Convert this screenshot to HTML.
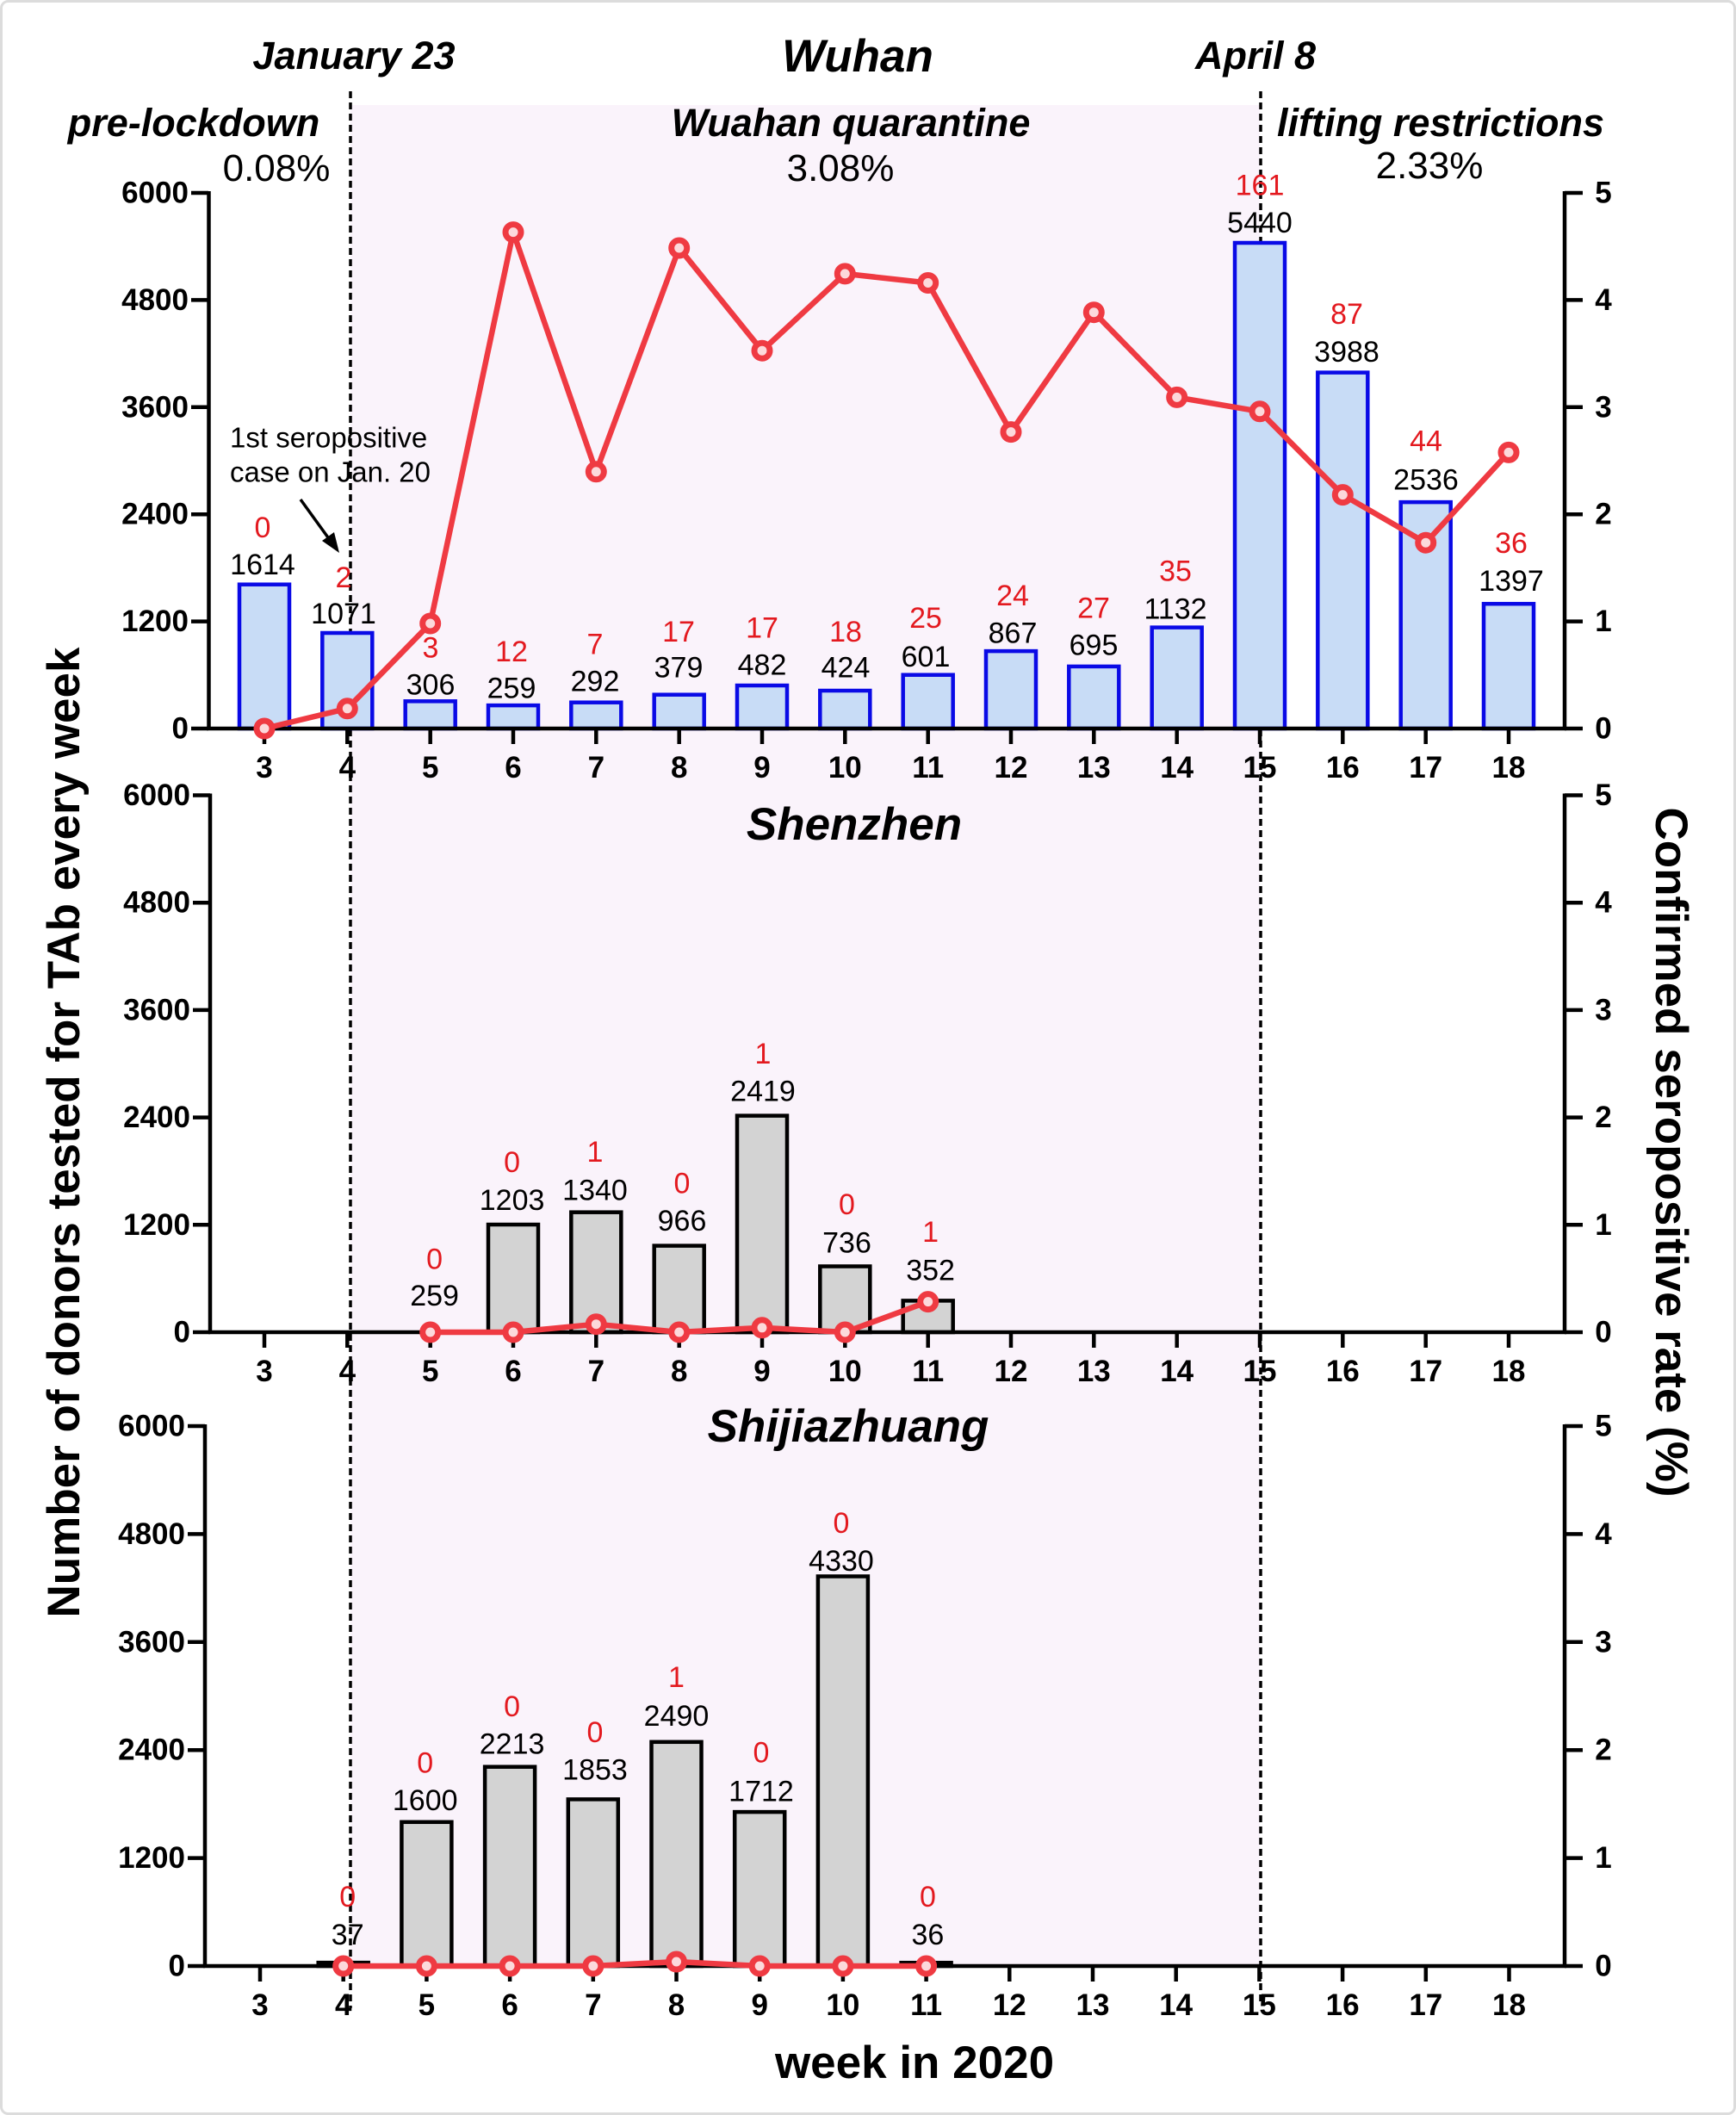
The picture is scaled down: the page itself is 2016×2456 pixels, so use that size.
<!DOCTYPE html>
<html>
<head>
<meta charset="utf-8">
<style>
  html, body { margin:0; padding:0; background:#ffffff; }
  svg { display:block; }
  .tk { font-family:"Liberation Sans", Arial, sans-serif; font-weight:bold; font-size:35px; fill:#000; }
  .num { font-family:"Liberation Sans", Arial, sans-serif; font-size:34px; fill:#000; }
  .red { font-family:"Liberation Sans", Arial, sans-serif; font-size:34px; fill:#e3191f; }
  .ttl { font-family:"Liberation Sans", Arial, sans-serif; font-weight:bold; font-style:italic; font-size:53px; fill:#000; }
  .ph { font-family:"Liberation Sans", Arial, sans-serif; font-weight:bold; font-style:italic; font-size:45px; fill:#000; }
  .pct { font-family:"Liberation Sans", Arial, sans-serif; font-size:44px; fill:#000; }
  .ax { font-family:"Liberation Sans", Arial, sans-serif; font-weight:bold; font-size:53px; fill:#000; }
  .ann { font-family:"Liberation Sans", Arial, sans-serif; font-size:33px; fill:#000; }
</style>
</head>
<body>
<svg width="2016" height="2456" viewBox="0 0 2016 2456" xmlns="http://www.w3.org/2000/svg">
  <rect x="0" y="0" width="2016" height="2456" fill="#ffffff"/>
  <rect x="1.5" y="1.5" width="2013" height="2453" rx="8" fill="none" stroke="#dcdcdc" stroke-width="3"/>

  <!-- shading -->
  <rect x="407" y="122" width="1056" height="2161" fill="#faf3fb"/>

  <!-- dashed lines -->
  <line x1="407" y1="106" x2="407" y2="2332" stroke="#000" stroke-width="3.5" stroke-dasharray="8,5"/>
  <line x1="1464" y1="106" x2="1464" y2="2325" stroke="#000" stroke-width="3.5" stroke-dasharray="8,5"/>

  <!-- Header texts -->
  <text class="ph" x="411" y="80" text-anchor="middle">January 23</text>
  <text class="ttl" x="996" y="83" text-anchor="middle">Wuhan</text>
  <text class="ph" x="1458" y="80" text-anchor="middle">April 8</text>
  <text class="ph" x="225" y="158" text-anchor="middle">pre-lockdown</text>
  <text class="ph" x="988" y="158" text-anchor="middle">Wuahan quarantine</text>
  <text class="ph" x="1673" y="158" text-anchor="middle">lifting restrictions</text>
  <text class="pct" x="321" y="210" text-anchor="middle">0.08%</text>
  <text class="pct" x="976" y="210" text-anchor="middle">3.08%</text>
  <text class="pct" x="1660" y="207" text-anchor="middle">2.33%</text>

  <!-- ============ PANEL 1 (Wuhan) ============ -->
  <g fill="#c8dcf6" stroke="#0a0ae6" stroke-width="4.5">
    <rect x="278" y="678.7" width="58" height="167.3"/>
    <rect x="374.3" y="735" width="58" height="111"/>
    <rect x="470.7" y="814.3" width="58" height="31.7"/>
    <rect x="567" y="819.1" width="58" height="26.9"/>
    <rect x="663.3" y="815.7" width="58" height="30.3"/>
    <rect x="759.7" y="806.7" width="58" height="39.3"/>
    <rect x="856" y="796" width="58" height="50"/>
    <rect x="952.3" y="802" width="58" height="44"/>
    <rect x="1048.7" y="783.7" width="58" height="62.3"/>
    <rect x="1145" y="756.1" width="58" height="89.9"/>
    <rect x="1241.3" y="773.9" width="58" height="72.1"/>
    <rect x="1337.7" y="728.6" width="58" height="117.4"/>
    <rect x="1434" y="282" width="58" height="564"/>
    <rect x="1530.3" y="432.6" width="58" height="413.4"/>
    <rect x="1626.7" y="583.1" width="58" height="262.9"/>
    <rect x="1723" y="701.2" width="58" height="144.8"/>
  </g>
  <!-- axes P1 -->
  <g stroke="#000" stroke-width="4.5" fill="none">
    <line x1="242.5" y1="222" x2="242.5" y2="848"/>
    <line x1="240" y1="846" x2="1819" y2="846"/>
    <line x1="1817" y1="222" x2="1817" y2="848"/>
    <path d="M222 846H242 M222 721.6H242 M222 597.2H242 M222 472.8H242 M222 348.4H242 M222 224H242"/>
    <path d="M1817 846H1838 M1817 721.6H1838 M1817 597.2H1838 M1817 472.8H1838 M1817 348.4H1838 M1817 224H1838"/>
    <path d="M307 846V864 M403.3 846V864 M499.7 846V864 M596 846V864 M692.3 846V864 M788.7 846V864 M885 846V864 M981.3 846V864 M1077.7 846V864 M1174 846V864 M1270.3 846V864 M1366.7 846V864 M1463 846V864 M1559.3 846V864 M1655.7 846V864 M1752 846V864"/>
  </g>
  <g class="tk" text-anchor="end">
    <text class="tk" x="219" y="857.5" text-anchor="end">0</text>
    <text class="tk" x="219" y="733" text-anchor="end">1200</text>
    <text class="tk" x="219" y="608.7" text-anchor="end">2400</text>
    <text class="tk" x="219" y="484.3" text-anchor="end">3600</text>
    <text class="tk" x="219" y="359.9" text-anchor="end">4800</text>
    <text class="tk" x="219" y="235.5" text-anchor="end">6000</text>
  </g>
  <g>
    <text class="tk" x="1862" y="857.5" text-anchor="middle">0</text>
    <text class="tk" x="1862" y="733" text-anchor="middle">1</text>
    <text class="tk" x="1862" y="608.7" text-anchor="middle">2</text>
    <text class="tk" x="1862" y="484.3" text-anchor="middle">3</text>
    <text class="tk" x="1862" y="359.9" text-anchor="middle">4</text>
    <text class="tk" x="1862" y="235.5" text-anchor="middle">5</text>
  </g>
  <g>
    <text class="tk" x="307" y="903" text-anchor="middle">3</text>
    <text class="tk" x="403.3" y="903" text-anchor="middle">4</text>
    <text class="tk" x="499.7" y="903" text-anchor="middle">5</text>
    <text class="tk" x="596" y="903" text-anchor="middle">6</text>
    <text class="tk" x="692.3" y="903" text-anchor="middle">7</text>
    <text class="tk" x="788.7" y="903" text-anchor="middle">8</text>
    <text class="tk" x="885" y="903" text-anchor="middle">9</text>
    <text class="tk" x="981.3" y="903" text-anchor="middle">10</text>
    <text class="tk" x="1077.7" y="903" text-anchor="middle">11</text>
    <text class="tk" x="1174" y="903" text-anchor="middle">12</text>
    <text class="tk" x="1270.3" y="903" text-anchor="middle">13</text>
    <text class="tk" x="1366.7" y="903" text-anchor="middle">14</text>
    <text class="tk" x="1463" y="903" text-anchor="middle">15</text>
    <text class="tk" x="1559.3" y="903" text-anchor="middle">16</text>
    <text class="tk" x="1655.7" y="903" text-anchor="middle">17</text>
    <text class="tk" x="1752" y="903" text-anchor="middle">18</text>
  </g>
  <!-- line P1 -->
  <polyline fill="none" stroke="#ef3a42" stroke-width="6.5" stroke-linejoin="round"
    points="307,846 403.3,822.8 499.7,724 596,269.6 692.3,547.8 788.7,288 885,407.2 981.3,317.9 1077.7,328.5 1174,501.6 1270.3,362.7 1366.7,461.4 1463,477.8 1559.3,574.6 1655.7,630.2 1752,525.4"/>
  <g fill="#fcd9db" stroke="#ef3a42" stroke-width="7">
    <circle cx="307" cy="846" r="9"/>
    <circle cx="403.3" cy="822.8" r="9"/>
    <circle cx="499.7" cy="724" r="9"/>
    <circle cx="596" cy="269.6" r="9"/>
    <circle cx="692.3" cy="547.8" r="9"/>
    <circle cx="788.7" cy="288" r="9"/>
    <circle cx="885" cy="407.2" r="9"/>
    <circle cx="981.3" cy="317.9" r="9"/>
    <circle cx="1077.7" cy="328.5" r="9"/>
    <circle cx="1174" cy="501.6" r="9"/>
    <circle cx="1270.3" cy="362.7" r="9"/>
    <circle cx="1366.7" cy="461.4" r="9"/>
    <circle cx="1463" cy="477.8" r="9"/>
    <circle cx="1559.3" cy="574.6" r="9"/>
    <circle cx="1655.7" cy="630.2" r="9"/>
    <circle cx="1752" cy="525.4" r="9"/>
  </g>
  <!-- labels P1 -->
  <g text-anchor="middle">
    <text class="red" x="305" y="624">0</text><text class="num" x="305" y="667">1614</text>
    <text class="red" x="399" y="682">2</text><text class="num" x="399" y="724">1071</text>
    <text class="red" x="500" y="763.5">3</text><text class="num" x="500" y="806.5">306</text>
    <text class="red" x="594" y="768">12</text><text class="num" x="594" y="810.6">259</text>
    <text class="red" x="691" y="759.5">7</text><text class="num" x="691" y="802.5">292</text>
    <text class="red" x="788" y="745">17</text><text class="num" x="788" y="786.5">379</text>
    <text class="red" x="885" y="740.5">17</text><text class="num" x="885" y="783.6">482</text>
    <text class="red" x="982" y="745">18</text><text class="num" x="982" y="786.5">424</text>
    <text class="red" x="1075" y="729">25</text><text class="num" x="1075" y="773.8">601</text>
    <text class="red" x="1176" y="703.2">24</text><text class="num" x="1176" y="746.3">867</text>
    <text class="red" x="1270" y="717.6">27</text><text class="num" x="1270" y="760.6">695</text>
    <text class="red" x="1365" y="674.5">35</text><text class="num" x="1365" y="718.7">1132</text>
    <text class="red" x="1463" y="226.7">161</text><text class="num" x="1463" y="269.8">5440</text>
    <text class="red" x="1564" y="376">87</text><text class="num" x="1564" y="420">3988</text>
    <text class="red" x="1656" y="523.5">44</text><text class="num" x="1656" y="568.3">2536</text>
    <text class="red" x="1755" y="641.8">36</text><text class="num" x="1755" y="686">1397</text>
  </g>
  <!-- annotation -->
  <text class="ann" x="267" y="519.5">1st seropositive</text>
  <text class="ann" x="267" y="559.7">case on Jan. 20</text>
  <line x1="349" y1="580" x2="383" y2="627" stroke="#000" stroke-width="3.5"/>
  <polygon points="394,642 374,628 388,618" fill="#000"/>

  <!-- ============ PANEL 2 (Shenzhen) ============ -->
  <text class="ttl" x="992" y="975" text-anchor="middle">Shenzhen</text>
  <g fill="#d3d3d3" stroke="#000" stroke-width="4.5">
    <rect x="567" y="1422" width="58" height="125"/>
    <rect x="663.3" y="1407.7" width="58" height="139.3"/>
    <rect x="759.7" y="1446.6" width="58" height="100.4"/>
    <rect x="856" y="1295.6" width="58" height="251.4"/>
    <rect x="952.3" y="1470.5" width="58" height="76.5"/>
    <rect x="1048.7" y="1510.4" width="58" height="36.6"/>
  </g>
  <g stroke="#000" stroke-width="4.5" fill="none">
    <line x1="244" y1="921.5" x2="244" y2="1549"/>
    <line x1="242" y1="1547" x2="1819" y2="1547"/>
    <line x1="1817" y1="921.5" x2="1817" y2="1549"/>
    <path d="M224 1547H244 M224 1422.3H244 M224 1297.6H244 M224 1172.9H244 M224 1048.2H244 M224 923.5H244"/>
    <path d="M1817 1547H1838 M1817 1422.3H1838 M1817 1297.6H1838 M1817 1172.9H1838 M1817 1048.2H1838 M1817 923.5H1838"/>
    <path d="M307 1547V1565 M403.3 1547V1565 M499.7 1547V1565 M596 1547V1565 M692.3 1547V1565 M788.7 1547V1565 M885 1547V1565 M981.3 1547V1565 M1077.7 1547V1565 M1174 1547V1565 M1270.3 1547V1565 M1366.7 1547V1565 M1463 1547V1565 M1559.3 1547V1565 M1655.7 1547V1565 M1752 1547V1565"/>
  </g>
  <g>
    <text class="tk" x="221" y="1558.5" text-anchor="end">0</text>
    <text class="tk" x="221" y="1433.8" text-anchor="end">1200</text>
    <text class="tk" x="221" y="1309.1" text-anchor="end">2400</text>
    <text class="tk" x="221" y="1184.4" text-anchor="end">3600</text>
    <text class="tk" x="221" y="1059.7" text-anchor="end">4800</text>
    <text class="tk" x="221" y="935" text-anchor="end">6000</text>
    <text class="tk" x="1862" y="1558.5" text-anchor="middle">0</text>
    <text class="tk" x="1862" y="1433.8" text-anchor="middle">1</text>
    <text class="tk" x="1862" y="1309.1" text-anchor="middle">2</text>
    <text class="tk" x="1862" y="1184.4" text-anchor="middle">3</text>
    <text class="tk" x="1862" y="1059.7" text-anchor="middle">4</text>
    <text class="tk" x="1862" y="935" text-anchor="middle">5</text>
  </g>
  <g>
    <text class="tk" x="307" y="1604" text-anchor="middle">3</text>
    <text class="tk" x="403.3" y="1604" text-anchor="middle">4</text>
    <text class="tk" x="499.7" y="1604" text-anchor="middle">5</text>
    <text class="tk" x="596" y="1604" text-anchor="middle">6</text>
    <text class="tk" x="692.3" y="1604" text-anchor="middle">7</text>
    <text class="tk" x="788.7" y="1604" text-anchor="middle">8</text>
    <text class="tk" x="885" y="1604" text-anchor="middle">9</text>
    <text class="tk" x="981.3" y="1604" text-anchor="middle">10</text>
    <text class="tk" x="1077.7" y="1604" text-anchor="middle">11</text>
    <text class="tk" x="1174" y="1604" text-anchor="middle">12</text>
    <text class="tk" x="1270.3" y="1604" text-anchor="middle">13</text>
    <text class="tk" x="1366.7" y="1604" text-anchor="middle">14</text>
    <text class="tk" x="1463" y="1604" text-anchor="middle">15</text>
    <text class="tk" x="1559.3" y="1604" text-anchor="middle">16</text>
    <text class="tk" x="1655.7" y="1604" text-anchor="middle">17</text>
    <text class="tk" x="1752" y="1604" text-anchor="middle">18</text>
  </g>
  <polyline fill="none" stroke="#ef3a42" stroke-width="6.5" stroke-linejoin="round"
    points="499.7,1547 596,1547 692.3,1537.7 788.7,1547 885,1541.8 981.3,1547 1077.7,1511.6"/>
  <g fill="#fcd9db" stroke="#ef3a42" stroke-width="7">
    <circle cx="499.7" cy="1547" r="9"/>
    <circle cx="596" cy="1547" r="9"/>
    <circle cx="692.3" cy="1537.7" r="9"/>
    <circle cx="788.7" cy="1547" r="9"/>
    <circle cx="885" cy="1541.8" r="9"/>
    <circle cx="981.3" cy="1547" r="9"/>
    <circle cx="1077.7" cy="1511.6" r="9"/>
  </g>
  <g text-anchor="middle">
    <text class="red" x="504.6" y="1473.5">0</text><text class="num" x="504.6" y="1515.8">259</text>
    <text class="red" x="594.6" y="1361">0</text><text class="num" x="594.6" y="1405">1203</text>
    <text class="red" x="691" y="1349">1</text><text class="num" x="691" y="1393.4">1340</text>
    <text class="red" x="792" y="1385.7">0</text><text class="num" x="792" y="1429">966</text>
    <text class="red" x="886" y="1235">1</text><text class="num" x="886" y="1278.6">2419</text>
    <text class="red" x="983.5" y="1410">0</text><text class="num" x="983.5" y="1454.6">736</text>
    <text class="red" x="1080.6" y="1441.8">1</text><text class="num" x="1080.6" y="1486.7">352</text>
  </g>

  <!-- ============ PANEL 3 (Shijiazhuang) ============ -->
  <text class="ttl" x="985" y="1674" text-anchor="middle">Shijiazhuang</text>
  <g fill="#d3d3d3" stroke="#000" stroke-width="4.5">
    <rect x="369.7" y="2279.1" width="58" height="3.9"/>
    <rect x="466.4" y="2115.8" width="58" height="167.2"/>
    <rect x="563.1" y="2051.7" width="58" height="231.3"/>
    <rect x="659.8" y="2089.4" width="58" height="193.6"/>
    <rect x="756.5" y="2022.8" width="58" height="260.2"/>
    <rect x="853.2" y="2104.1" width="58" height="178.9"/>
    <rect x="949.9" y="1830.5" width="58" height="452.5"/>
    <rect x="1046.6" y="2279.2" width="58" height="3.8"/>
  </g>
  <g stroke="#000" stroke-width="4.5" fill="none">
    <line x1="238" y1="1654" x2="238" y2="2285"/>
    <line x1="236" y1="2283" x2="1819" y2="2283"/>
    <line x1="1817" y1="1654" x2="1817" y2="2285"/>
    <path d="M218 2283H238 M218 2157.6H238 M218 2032.2H238 M218 1906.8H238 M218 1781.4H238 M218 1656H238"/>
    <path d="M1817 2283H1838 M1817 2157.6H1838 M1817 2032.2H1838 M1817 1906.8H1838 M1817 1781.4H1838 M1817 1656H1838"/>
    <path d="M302 2283V2301 M398.7 2283V2301 M495.4 2283V2301 M592.1 2283V2301 M688.8 2283V2301 M785.5 2283V2301 M882.2 2283V2301 M978.9 2283V2301 M1075.6 2283V2301 M1172.3 2283V2301 M1269 2283V2301 M1365.7 2283V2301 M1462.4 2283V2301 M1559.1 2283V2301 M1655.8 2283V2301 M1752.5 2283V2301"/>
  </g>
  <g>
    <text class="tk" x="215" y="2294.5" text-anchor="end">0</text>
    <text class="tk" x="215" y="2169.1" text-anchor="end">1200</text>
    <text class="tk" x="215" y="2043.7" text-anchor="end">2400</text>
    <text class="tk" x="215" y="1918.3" text-anchor="end">3600</text>
    <text class="tk" x="215" y="1792.9" text-anchor="end">4800</text>
    <text class="tk" x="215" y="1667.5" text-anchor="end">6000</text>
    <text class="tk" x="1862" y="2294.5" text-anchor="middle">0</text>
    <text class="tk" x="1862" y="2169.1" text-anchor="middle">1</text>
    <text class="tk" x="1862" y="2043.7" text-anchor="middle">2</text>
    <text class="tk" x="1862" y="1918.3" text-anchor="middle">3</text>
    <text class="tk" x="1862" y="1792.9" text-anchor="middle">4</text>
    <text class="tk" x="1862" y="1667.5" text-anchor="middle">5</text>
  </g>
  <g>
    <text class="tk" x="302" y="2340" text-anchor="middle">3</text>
    <text class="tk" x="398.7" y="2340" text-anchor="middle">4</text>
    <text class="tk" x="495.4" y="2340" text-anchor="middle">5</text>
    <text class="tk" x="592.1" y="2340" text-anchor="middle">6</text>
    <text class="tk" x="688.8" y="2340" text-anchor="middle">7</text>
    <text class="tk" x="785.5" y="2340" text-anchor="middle">8</text>
    <text class="tk" x="882.2" y="2340" text-anchor="middle">9</text>
    <text class="tk" x="978.9" y="2340" text-anchor="middle">10</text>
    <text class="tk" x="1075.6" y="2340" text-anchor="middle">11</text>
    <text class="tk" x="1172.3" y="2340" text-anchor="middle">12</text>
    <text class="tk" x="1269" y="2340" text-anchor="middle">13</text>
    <text class="tk" x="1365.7" y="2340" text-anchor="middle">14</text>
    <text class="tk" x="1462.4" y="2340" text-anchor="middle">15</text>
    <text class="tk" x="1559.1" y="2340" text-anchor="middle">16</text>
    <text class="tk" x="1655.8" y="2340" text-anchor="middle">17</text>
    <text class="tk" x="1752.5" y="2340" text-anchor="middle">18</text>
  </g>
  <polyline fill="none" stroke="#ef3a42" stroke-width="6.5" stroke-linejoin="round"
    points="398.7,2283 495.4,2283 592.1,2283 688.8,2283 785.5,2278 882.2,2283 978.9,2283 1075.6,2283"/>
  <g fill="#fcd9db" stroke="#ef3a42" stroke-width="7">
    <circle cx="398.7" cy="2283" r="9"/>
    <circle cx="495.4" cy="2283" r="9"/>
    <circle cx="592.1" cy="2283" r="9"/>
    <circle cx="688.8" cy="2283" r="9"/>
    <circle cx="785.5" cy="2278" r="9"/>
    <circle cx="882.2" cy="2283" r="9"/>
    <circle cx="978.9" cy="2283" r="9"/>
    <circle cx="1075.6" cy="2283" r="9"/>
  </g>
  <g text-anchor="middle">
    <text class="red" x="403.7" y="2214">0</text><text class="num" x="403.7" y="2257.8">37</text>
    <text class="red" x="493.7" y="2058.6">0</text><text class="num" x="493.7" y="2102.2">1600</text>
    <text class="red" x="594.6" y="1993">0</text><text class="num" x="594.6" y="2036.7">2213</text>
    <text class="red" x="691" y="2023">0</text><text class="num" x="691" y="2066.7">1853</text>
    <text class="red" x="785.5" y="1959.2">1</text><text class="num" x="785.5" y="2004">2490</text>
    <text class="red" x="884" y="2046.6">0</text><text class="num" x="884" y="2091.3">1712</text>
    <text class="red" x="977" y="1780">0</text><text class="num" x="977" y="1823.8">4330</text>
    <text class="red" x="1077.4" y="2214">0</text><text class="num" x="1077.4" y="2257.8">36</text>
  </g>

  <!-- axis titles -->
  <text class="ax" x="1062" y="2413" text-anchor="middle">week in 2020</text>
  <text class="ax" transform="translate(92,1315) rotate(-90)" x="0" y="0" text-anchor="middle">Number of donors tested for TAb every week</text>
  <text class="ax" transform="translate(1923,1338) rotate(90)" x="0" y="0" text-anchor="middle">Confirmed seropositive rate (%)</text>
</svg>
</body>
</html>
